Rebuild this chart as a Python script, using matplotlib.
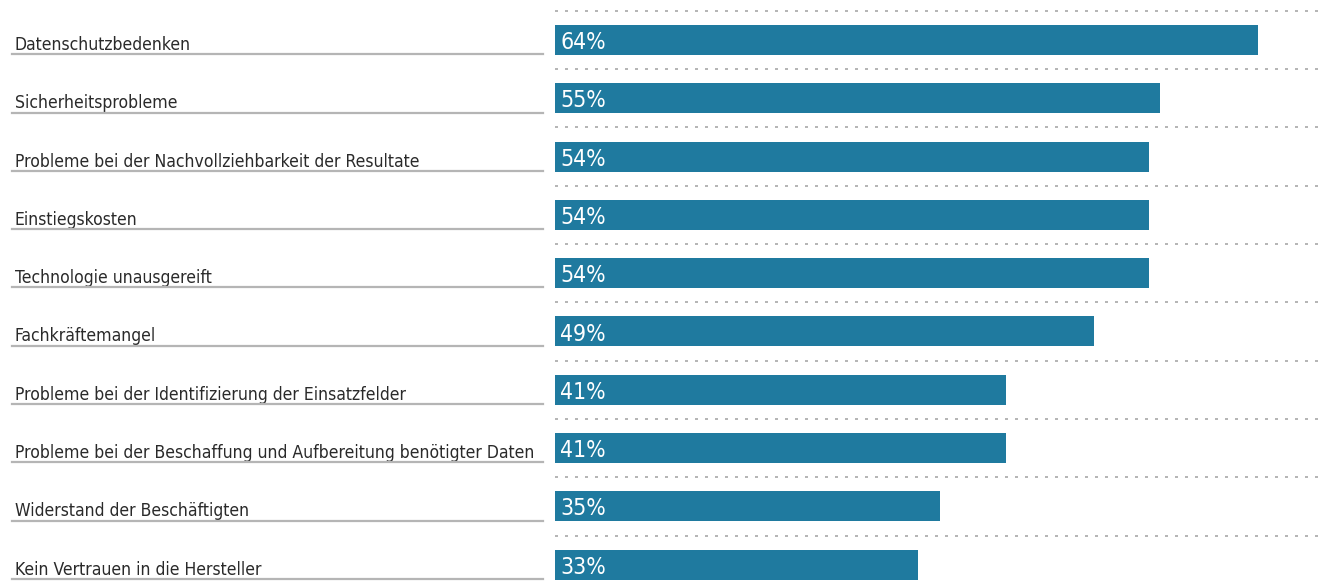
import matplotlib.pyplot as plt
import matplotlib.transforms as mtransforms
from matplotlib.lines import Line2D

plt.rcParams['font.family'] = ['DejaVu Sans']

labels = [
    "Datenschutzbedenken",
    "Sicherheitsprobleme",
    "Probleme bei der Nachvollziehbarkeit der Resultate",
    "Einstiegskosten",
    "Technologie unausgereift",
    "Fachkräftemangel",
    "Probleme bei der Identifizierung der Einsatzfelder",
    "Probleme bei der Beschaffung und Aufbereitung benötigter Daten",
    "Widerstand der Beschäftigten",
    "Kein Vertrauen in die Hersteller",
]
values = [64, 55, 54, 54, 54, 49, 41, 41, 35, 33]

bar_color = "#1f7a9f"

fig = plt.figure(figsize=(13.32, 5.88), dpi=100)
ax = fig.add_axes([555 / 1332, 0, (1320 - 555) / 1332, 1])

y = list(range(len(values)))
ax.barh(y, values, height=0.515, color=bar_color, zorder=2)

ax.set_xlim(0, 69.6)
ax.set_ylim(9.4, -0.686)

# dotted separators between bars
for i in range(len(values)):
    ax.axhline(i - 0.5, color="#a8a8a8", lw=1.2, ls=(0, (1.8, 4.2)), zorder=1)

for i, v in enumerate(values):
    ax.text(0.5, i + 0.155, f"{v}%", color="white", fontsize=16.5,
            fontstretch="condensed", va="baseline", ha="left", zorder=3)

# category labels with underline on the left
trans = mtransforms.blended_transform_factory(fig.transFigure, ax.transData)
for i, lab in enumerate(labels):
    ax.text(15 / 1332, i + 0.17, lab, transform=trans, fontsize=12.6,
            fontstretch="condensed", color="#2a2a2a", va="baseline",
            ha="left", clip_on=False)
    fig.add_artist(Line2D([12 / 1332, 543 / 1332], [i + 0.245, i + 0.245],
                          transform=trans, color="#b5b5b5", lw=1.6))

ax.axis("off")
fig.savefig("out.png", dpi=100)
